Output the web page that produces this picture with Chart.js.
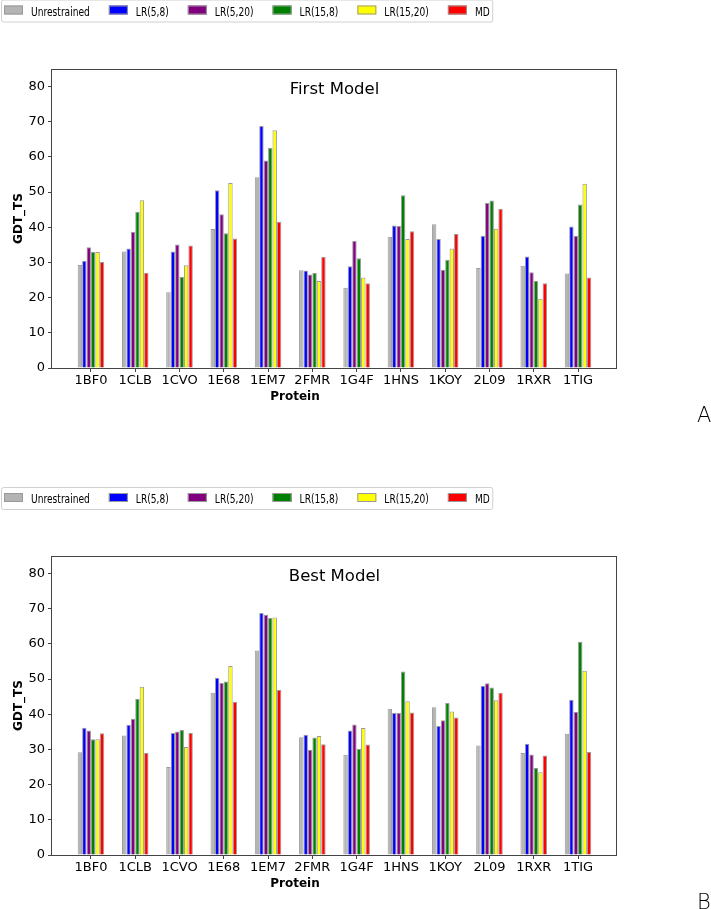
<!DOCTYPE html>
<html>
<head>
<meta charset="utf-8">
<script src="https://cdn.jsdelivr.net/npm/chart.js@4"></script>
<style>
body { margin: 0; background: #fff; }
canvas { position: absolute; left: 0; }
#first { top: 0; }
#best { top: 455px; }
</style>
</head>
<body>
<canvas id="first" width="711" height="450"></canvas>
<canvas id="best" width="711" height="454"></canvas>
<script>
const proteins = ['1BF0', '1CLB', '1CVO', '1E68', '1EM7', '2FMR', '1G4F', '1HNS', '1KOY', '2L09', '1RXR', '1TIG'];
const seriesNames = ['Unrestrained', 'LR(5,8)', 'LR(5,20)', 'LR(15,8)', 'LR(15,20)', 'MD'];
const seriesColors = ['#b4b4b4', '#0000ff', '#800080', '#008000', '#ffff00', '#ff0000'];

// First Model
const firstUnres  = [29.3, 33.1, 21.5, 39.5, 54.2, 27.8, 22.8, 37.3, 40.9, 28.4, 29.1, 26.9];
const firstLR58   = [30.5, 34.0, 33.1, 50.5, 68.8, 27.7, 28.9, 40.5, 36.7, 37.6, 31.7, 40.2];
const firstLR520  = [34.3, 38.7, 35.1, 43.7, 59.0, 26.6, 36.1, 40.4, 27.9, 46.9, 27.2, 37.6];
const firstLR158  = [33.0, 44.4, 25.9, 38.3, 62.6, 27.0, 31.2, 49.1, 30.8, 47.6, 24.8, 46.5];
const firstLR1520 = [33.0, 47.7, 29.2, 52.6, 67.6, 24.7, 25.7, 36.7, 34.0, 39.6, 19.7, 52.4];
const firstMD     = [30.1, 27.1, 34.8, 36.8, 41.6, 31.6, 24.1, 38.9, 38.1, 45.3, 24.1, 25.7];

// Best Model
const bestUnres  = [29.2, 34.0, 25.0, 46.1, 58.1, 33.5, 28.5, 41.6, 42.0, 31.1, 29.0, 34.5];
const bestLR58   = [36.2, 37.0, 34.7, 50.4, 68.8, 34.2, 35.4, 40.4, 36.7, 48.1, 31.6, 44.1];
const bestLR520  = [35.4, 38.7, 35.1, 48.9, 68.3, 29.9, 37.1, 40.4, 38.3, 48.8, 28.6, 40.7];
const bestLR158  = [32.9, 44.4, 35.5, 49.3, 67.4, 33.4, 30.2, 52.2, 43.2, 47.6, 24.7, 60.6];
const bestLR1520 = [32.9, 47.8, 30.7, 53.7, 67.5, 33.8, 36.1, 43.7, 40.8, 44.0, 23.5, 52.4];
const bestMD     = [34.6, 29.0, 34.7, 43.6, 46.9, 31.5, 31.4, 40.5, 39.1, 46.1, 28.3, 29.3];

Chart.defaults.font.family = "'DejaVu Sans', sans-serif";
Chart.defaults.color = '#000';

// frame, panel title, x title, panel letter and the boxed legend
const decor = {
  id: 'decor',
  afterDatasetsDraw(chart, args, o) {
    const ctx = chart.ctx, a = chart.chartArea;
    ctx.save();
    ctx.strokeStyle = '#444';
    ctx.lineWidth = 1;
    ctx.strokeRect(Math.round(a.left) - 0.5, Math.round(a.top) + 0.5,
                   Math.round(a.right - a.left), Math.round(a.bottom - a.top));

    ctx.fillStyle = '#000';
    ctx.textAlign = 'center';
    ctx.textBaseline = 'alphabetic';
    ctx.font = "16.5px 'DejaVu Sans'";
    ctx.fillText(o.title, (a.left + a.right) / 2, a.top + 25);

    ctx.font = "bold 12px 'DejaVu Sans'";
    ctx.fillText('Protein', a.left + 0.43 * (a.right - a.left), a.bottom + 32);

    ctx.textAlign = 'left';
    ctx.font = "200 21px 'DejaVu Sans'";
    ctx.fillText(o.letter, 697, a.bottom + 53.5);

    // legend
    const top = o.legendTop;
    ctx.font = "13px 'DejaVu Sans'";
    let x = 4;
    chart.data.datasets.forEach(ds => {
      ctx.fillStyle = ds.backgroundColor;
      ctx.fillRect(x, top + 6, 19, 9);
      ctx.strokeStyle = '#999';
      ctx.strokeRect(x + 0.5, top + 6.5, 18, 8);
      const w = ctx.measureText(ds.label).width * 0.7;
      ctx.save();
      ctx.translate(x + 27, top + 16);
      ctx.scale(0.7, 1);
      ctx.fillStyle = '#000';
      ctx.fillText(ds.label, 0, 0);
      ctx.restore();
      x += 27 + w + 19;
    });
    ctx.strokeStyle = '#d0d0d0';
    ctx.beginPath();
    ctx.roundRect(1.5, top + 0.5, x - 19 + 3 - 1.5, 22, 2);
    ctx.stroke();
    ctx.restore();
  }
};

function makeChart(id, series, title, letter, padTop, padBottom, legendTop) {
  return new Chart(document.getElementById(id), {
    type: 'bar',
    data: {
      datasets: seriesNames.map((name, k) => ({
        label: name,
        data: series[k].map((v, i) => ({ x: i, y: v })),
        backgroundColor: seriesColors[k],
        borderColor: '#9a9a9a',
        borderWidth: 1
      }))
    },
    options: {
      responsive: false,
      animation: false,
      datasets: { bar: { categoryPercentage: 0.6, barPercentage: 1.0 } },
      layout: { padding: { left: 0, top: padTop, right: 94, bottom: padBottom } },
      plugins: {
        legend: { display: false },
        tooltip: { enabled: false },
        decor: { title: title, letter: letter, legendTop: legendTop }
      },
      scales: {
        x: {
          type: 'linear',
          min: -0.88,
          max: 11.88,
          offset: false,
          afterFit(s) { s.height = 40; },
          ticks: {
            stepSize: 1,
            includeBounds: false,
            autoSkip: false,
            maxRotation: 0,
            padding: 1,
            font: { size: 13 },
            callback: v => proteins[v] ?? ''
          },
          grid: { offset: false, drawOnChartArea: false, drawTicks: true, tickLength: 4, color: '#444' },
          border: { display: false }
        },
        y: {
          min: 0,
          max: 85,
          afterFit(s) { s.width = 52; },
          ticks: { stepSize: 10, includeBounds: false, padding: 3, font: { size: 13 } },
          grid: { drawOnChartArea: false, drawTicks: true, tickLength: 4, color: '#444' },
          border: { display: false },
          title: {
            display: true,
            text: 'GDT_TS',
            font: { size: 12, weight: 'bold' },
            padding: { top: 12, bottom: 0 }
          }
        }
      }
    },
    plugins: [decor]
  });
}

makeChart('first', [firstUnres, firstLR58, firstLR520, firstLR158, firstLR1520, firstMD],
          'First Model', 'A', 69, 42, -0.5);
makeChart('best', [bestUnres, bestLR58, bestLR520, bestLR158, bestLR1520, bestMD],
          'Best Model', 'B', 101, 14, 32);
</script>
</body>
</html>
